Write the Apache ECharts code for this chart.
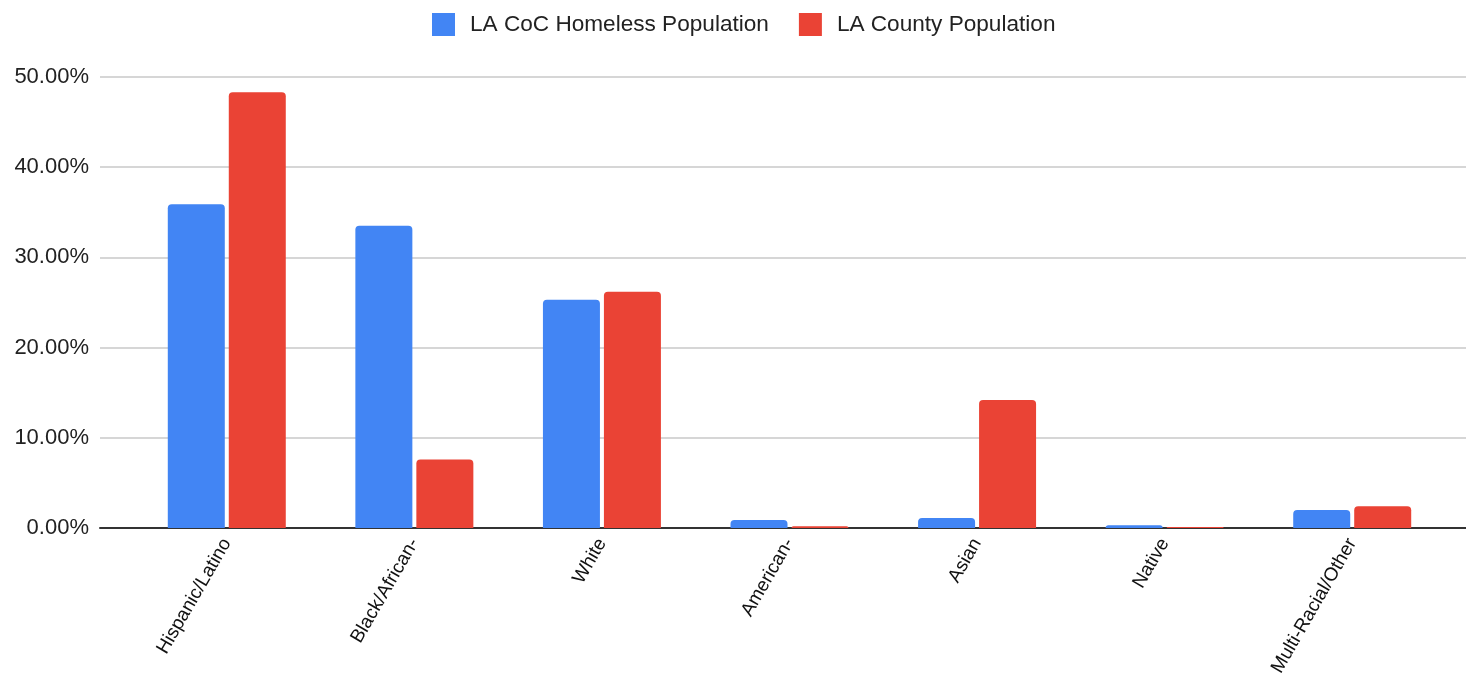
<!DOCTYPE html>
<html>
<head>
<meta charset="utf-8">
<script src="https://cdn.jsdelivr.net/npm/echarts@6/dist/echarts.min.js"></script>
<style>
  html, body { margin: 0; padding: 0; background: #fff; }
  #chart { width: 1466px; height: 681px; }
</style>
</head>
<body>
<div id="chart"></div>
<script>
var categories = ['Hispanic/Latino', 'Black/African-', 'White', 'American-', 'Asian', 'Native', 'Multi-Racial/Other'];
var homeless = [35.9, 33.5, 25.3, 0.9, 1.1, 0.3, 2.0];
var county = [48.3, 7.6, 26.2, 0.2, 14.2, 0.1, 2.4];
var yTicks = [0, 10, 20, 30, 40, 50];

var myChart = echarts.init(document.getElementById('chart'));
var font = '"Liberation Sans", Arial, sans-serif';

var option = {
    animation: false,
    textStyle: { fontFamily: font },
    legend: {
        top: 8,
        left: 427,
        itemWidth: 23,
        itemHeight: 23,
        itemGap: 30,
        icon: 'rect',
        textStyle: { fontSize: 22.6, color: '#222', fontFamily: font, padding: [0, 0, 0, 10] },
        data: ['LA CoC Homeless Population', 'LA County Population']
    },
    grid: [
        // wide grid: gridlines + baseline
        { left: 100, right: 0, top: 77, bottom: 153 },
        // bars
        { left: 133, right: 20, top: 77, bottom: 153 }
    ],
    xAxis: [
        {
            gridIndex: 0,
            type: 'category',
            data: [''],
            axisLine: { lineStyle: { color: '#333', width: 2 } },
            axisTick: { show: false },
            axisLabel: { show: false }
        },
        {
            gridIndex: 1,
            type: 'category',
            data: categories,
            axisLine: { show: false },
            axisTick: { show: false },
            axisLabel: {
                rotate: 60,
                margin: 12,
                fontSize: 19,
                color: '#111',
                fontFamily: font,
                interval: 0
            }
        }
    ],
    yAxis: [
        {
            gridIndex: 0,
            type: 'value',
            min: yTicks[0],
            max: yTicks[yTicks.length - 1],
            interval: 10,
            axisLine: { show: false },
            axisTick: { show: false },
            splitLine: { lineStyle: { color: '#c8c8c8', width: 1.5 } },
            axisLabel: {
                margin: 11,
                fontSize: 22,
                color: '#222',
                fontFamily: font,
                formatter: function (v) { return v.toFixed(2) + '%'; }
            }
        },
        {
            gridIndex: 1,
            type: 'value',
            min: yTicks[0],
            max: yTicks[yTicks.length - 1],
            interval: 10,
            axisLine: { show: false },
            axisTick: { show: false },
            splitLine: { show: false },
            axisLabel: { show: false }
        }
    ],
    series: [
        {
            name: 'LA CoC Homeless Population',
            type: 'bar',
            xAxisIndex: 1,
            yAxisIndex: 1,
            barWidth: 57,
            barGap: '7%',
            itemStyle: { color: '#4285F4', borderRadius: [4, 4, 0, 0] },
            data: homeless
        },
        {
            name: 'LA County Population',
            type: 'bar',
            xAxisIndex: 1,
            yAxisIndex: 1,
            barWidth: 57,
            barGap: '7%',
            itemStyle: { color: '#EA4335', borderRadius: [4, 4, 0, 0] },
            data: county
        }
    ]
};

myChart.setOption(option);
</script>
</body>
</html>
